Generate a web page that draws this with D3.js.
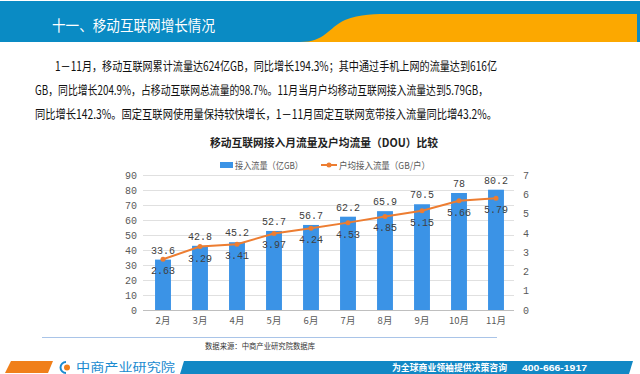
<!DOCTYPE html>
<html><head><meta charset="utf-8">
<script src="https://cdn.jsdelivr.net/npm/d3@7"></script>
<style>
html,body{margin:0;padding:0;background:#fff;}
svg{display:block;}
</style></head>
<body>
<svg id="c" width="640" height="374"></svg>
<script>
const months = ["2月","3月","4月","5月","6月","7月","8月","9月","10月","11月"];
const traffic = [33.6, 42.8, 45.2, 52.7, 56.7, 62.2, 65.9, 70.5, 78, 80.2];
const dou = [2.63, 3.29, 3.41, 3.97, 4.24, 4.53, 4.85, 5.15, 5.66, 5.79];
const leftTicks = [0,10,20,30,40,50,60,70,80,90];
const rightTicks = [0,1,2,3,4,5,6,7];
const seriesNames = ["接入流量（亿GB）","户均接入流量（GB/户）"];
const paragraph = [
  "1－11月，移动互联网累计流量达624亿GB，同比增长194.3%；其中通过手机上网的流量达到616亿",
  "GB，同比增长204.9%，占移动互联网总流量的98.7%。11月当月户均移动互联网接入流量达到5.79GB，",
  "同比增长142.3%。固定互联网使用量保持较快增长，1－11月固定互联网宽带接入流量同比增43.2%。"
];

const svg = d3.select("#c");
const CJK = "'Noto Sans CJK SC','Noto Sans',sans-serif";
const MONO = "'Liberation Mono','DejaVu Sans Mono',monospace";

// Header
svg.append("rect").attr("x",0).attr("y",1).attr("width",640).attr("height",41).attr("fill","#0a8bc4");
svg.append("path").attr("d","M300,42 C325,42 328,28 345,20 C360,14 375,14 393,14 L637,14 L637,42 Z").attr("fill","#fca800");
svg.append("text").attr("x",52).attr("y",31).attr("fill","#fff")
  .attr("font-family",CJK).attr("font-size",15).attr("textLength",163).attr("lengthAdjust","spacingAndGlyphs")
  .text("十一、移动互联网增长情况");

// Paragraph
const px = [55,35,35], pw = [442,453,462], py = [71,95,119];
paragraph.forEach((t,i)=>{
  svg.append("text").attr("x",px[i]).attr("y",py[i]).attr("fill","#111")
    .attr("font-family",CJK).attr("font-size",12.5).attr("textLength",pw[i]).attr("lengthAdjust","spacingAndGlyphs")
    .text(t);
});

// Chart title
svg.append("text").attr("x",210).attr("y",147).attr("fill","#222").attr("font-weight","bold")
  .attr("font-family",CJK).attr("font-size",11).attr("textLength",228).attr("lengthAdjust","spacingAndGlyphs")
  .text("移动互联网接入月流量及户均流量（DOU）比较");

// Legend
svg.append("rect").attr("x",220).attr("y",162).attr("width",13).attr("height",6).attr("fill","#3b93e6");
svg.append("text").attr("x",235).attr("y",169).attr("fill","#595959").attr("font-family",CJK).attr("font-size",9.5)
  .attr("textLength",68).attr("lengthAdjust","spacingAndGlyphs").text(seriesNames[0]);
svg.append("line").attr("x1",321).attr("x2",337).attr("y1",165).attr("y2",165).attr("stroke","#ed7d31").attr("stroke-width",2);
svg.append("circle").attr("cx",329).attr("cy",165).attr("r",2.5).attr("fill","#ed7d31");
svg.append("text").attr("x",339).attr("y",169).attr("fill","#595959").attr("font-family",CJK).attr("font-size",9.5)
  .attr("textLength",91).attr("lengthAdjust","spacingAndGlyphs").text(seriesNames[1]);

// Scales
const x = d3.scaleBand().domain(months).range([144.5,514.5]).paddingInner(0.57).paddingOuter(0.285);
const yL = d3.scaleLinear().domain([0,90]).range([310,175]);
const yR = d3.scaleLinear().domain([0,7]).range([310,175]);

// gridlines
svg.append("g").selectAll("line").data(leftTicks).join("line")
  .attr("x1",143).attr("x2",514).attr("y1",d=>yL(d)+0.5).attr("y2",d=>yL(d)+0.5)
  .attr("stroke",d=>d===0?"#bfbfbf":"#e0e0e0").attr("stroke-width",1);

// left axis
const gl = svg.append("g").attr("transform","translate(143,0)")
  .call(d3.axisLeft(yL).tickValues(leftTicks).tickFormat(d3.format("d")).tickSize(0).tickPadding(6));
gl.select(".domain").remove();
gl.selectAll("text").attr("font-family",MONO).attr("font-size",10).attr("fill","#595959");

// right axis
const gr = svg.append("g").attr("transform","translate(517,0)")
  .call(d3.axisRight(yR).tickValues(rightTicks).tickFormat(d3.format("d")).tickSize(0).tickPadding(6));
gr.select(".domain").remove();
gr.selectAll("text").attr("font-family",MONO).attr("font-size",10).attr("fill","#595959");

// x axis
const gx = svg.append("g").attr("transform","translate(0,310)")
  .call(d3.axisBottom(x).tickSize(0).tickPadding(7));
gx.select(".domain").remove();
gx.selectAll("text").attr("font-family",CJK).attr("font-size",9.5).attr("fill","#595959");

// bars
svg.append("g").selectAll("rect").data(traffic).join("rect")
  .attr("x",(d,i)=>x(months[i])).attr("width",x.bandwidth())
  .attr("y",d=>yL(d)).attr("height",d=>310-yL(d)).attr("fill","#3b93e6");

// bar labels
svg.append("g").selectAll("text").data(traffic).join("text")
  .attr("x",(d,i)=>x(months[i])+x.bandwidth()/2).attr("y",d=>yL(d)-6)
  .attr("text-anchor","middle").attr("font-family",MONO).attr("font-size",10).attr("fill","#404040")
  .text(d=>d);

// line
const cx = (d,i)=>x(months[i])+x.bandwidth()/2;
svg.append("path").datum(dou)
  .attr("d",d3.line().x(cx).y(d=>yR(d)))
  .attr("fill","none").attr("stroke","#ed7d31").attr("stroke-width",2);
svg.append("g").selectAll("circle").data(dou).join("circle")
  .attr("cx",cx).attr("cy",d=>yR(d)).attr("r",2.5).attr("fill","#ed7d31");
svg.append("g").selectAll("text").data(dou).join("text")
  .attr("x",cx).attr("y",d=>yR(d)+15)
  .attr("text-anchor","middle").attr("font-family",MONO).attr("font-size",10).attr("fill","#404040")
  .text(d=>d3.format(".2f")(d));

// separator & source
svg.append("line").attr("x1",42).attr("x2",497).attr("y1",337.5).attr("y2",337.5).attr("stroke","#a9c4e8").attr("stroke-width",1);
svg.append("text").attr("x",205).attr("y",349).attr("fill","#333").attr("font-family",CJK).attr("font-size",7.5)
  .attr("textLength",110).attr("lengthAdjust","spacingAndGlyphs").text("数据来源：中商产业研究院数据库");

// Footer
svg.append("path").attr("d","M5,373 L11,361 L53,361 L48,373 Z").attr("fill","#f07f1a");
svg.append("path").attr("d","M180,374 L184,361 L633,361 L629,374 Z").attr("fill","#1288c5");
svg.append("path").attr("d","M66,362 A5.5,5.5 0 1 0 66,373").attr("fill","none").attr("stroke","#1a8bd0").attr("stroke-width",2);
svg.append("circle").attr("cx",67).attr("cy",367.5).attr("r",3).attr("fill","#f07f1a");
svg.append("text").attr("x",76).attr("y",371.5).attr("fill","#1a8bd0").attr("font-family",CJK).attr("font-size",12)
  .attr("textLength",99).attr("lengthAdjust","spacingAndGlyphs").text("中商产业研究院");
svg.append("text").attr("x",392).attr("y",371).attr("fill","#fff").attr("font-weight","bold").attr("font-family",CJK).attr("font-size",9)
  .attr("textLength",115).attr("lengthAdjust","spacingAndGlyphs").text("为全球商业领袖提供决策咨询");
svg.append("text").attr("x",522).attr("y",371).attr("fill","#fff").attr("font-weight","bold").attr("font-family","'Liberation Sans',sans-serif").attr("font-size",9.5)
  .attr("textLength",65).attr("lengthAdjust","spacingAndGlyphs").text("400-666-1917");
</script>
</body></html>
